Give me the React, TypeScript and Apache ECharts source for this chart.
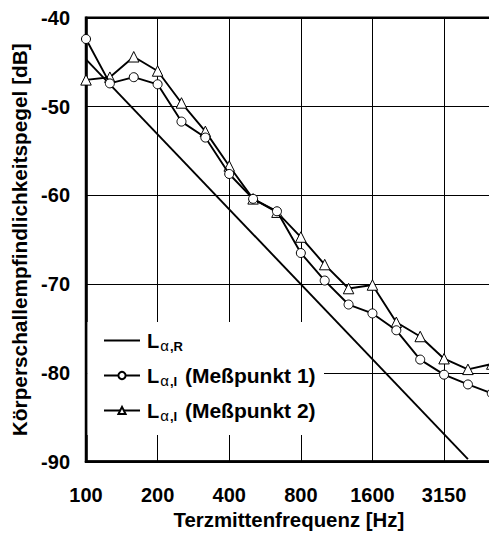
import React, { useEffect, useRef } from "react";
import * as echarts from "echarts";

// Third-octave band centre frequencies [Hz]
const bands = ["100", "125", "160", "200", "250", "315", "400", "500", "630", "800", "1000", "1250", "1600", "2000", "2500", "3150", "4000", "5000"];
// L_alpha,R (reference straight line): end points
const refBands = ["100", "4000"];
const refValues = [-44.7, -89.7];
// L_alpha,I (Meßpunkt 1) – circles
const meas1 = [-42.4, -47.4, -46.7, -47.5, -51.7, -53.5, -57.6, -60.4, -61.8, -66.5, -69.6, -72.3, -73.3, -75.2, -78.5, -80.2, -81.3, -82.3];
// L_alpha,I (Meßpunkt 2) – triangles
const meas2 = [-47.0, -46.7, -44.4, -46.0, -49.6, -52.8, -56.7, -60.4, -61.9, -64.7, -67.8, -70.5, -70.1, -74.3, -75.9, -78.4, -79.6, -79.0];
// y-axis range
const yMin = -90;
const yMax = -40;
const yStep = 10;

const names = ["Lα,R", "Lα,I (Meßpunkt 1)", "Lα,I (Meßpunkt 2)"];

const FONT = "'Liberation Sans', Arial, Helvetica, sans-serif";

export default function App() {
  const ref = useRef<HTMLDivElement>(null);
  useEffect(() => {
    if (!ref.current) return;
    const chart = echarts.init(ref.current, undefined, { renderer: "svg" });
    const symStyle = { color: "#fff", borderColor: "#000", borderWidth: 1 };
    chart.setOption({
      animation: false,
      backgroundColor: "#fff",
      grid: {
        left: 86,
        right: 8.2,
        top: 17.7,
        bottom: 74.3,
        show: true,
        borderColor: "#000",
        borderWidth: 2.5,
        backgroundColor: "transparent",
      },
      xAxis: {
        type: "category",
        data: bands,
        boundaryGap: false,
        name: "Terzmittenfrequenz [Hz]",
        nameLocation: "middle",
        nameGap: 45,
        nameTextStyle: { fontFamily: FONT, fontWeight: "bold", fontSize: 20.4, color: "#000" },
        axisLine: { lineStyle: { color: "#000", width: 2.5 } },
        axisTick: { show: false },
        axisLabel: {
          interval: 2,
          margin: 23,
          fontFamily: FONT,
          fontWeight: "bold",
          fontSize: 20,
          color: "#000",
        },
        splitLine: { show: true, interval: 2, lineStyle: { color: "#000", width: 1 } },
      },
      yAxis: {
        type: "value",
        min: yMin,
        max: yMax,
        interval: yStep,
        name: "Körperschallempfindlichkeitspegel [dB]",
        nameLocation: "middle",
        nameGap: 54,
        nameTextStyle: { fontFamily: FONT, fontWeight: "bold", fontSize: 20.8, color: "#000" },
        axisLine: { show: true, lineStyle: { color: "#000", width: 2.5 } },
        axisTick: { show: false },
        axisLabel: {
          margin: 16,
          fontFamily: FONT,
          fontWeight: "bold",
          fontSize: 20,
          color: "#000",
        },
        splitLine: { show: true, lineStyle: { color: "#000", width: 1 } },
      },
      legend: {
        orient: "vertical",
        left: 103,
        top: 330.5,
        padding: 0,
        itemGap: 12.5,
        itemWidth: 36,
        itemHeight: 9,
        data: [
          { name: names[0], itemStyle: { color: "transparent", borderColor: "transparent", borderWidth: 0 } },
          { name: names[1] },
          { name: names[2] },
        ],
        formatter: (name: string) => {
          const sub = name.startsWith("Lα,R") ? ",R" : ",I";
          const rest = name.replace(/^Lα,[RI]/, "");
          return `{b|L}{a|α}{s|${sub}}` + (rest ? `{c|${rest}}` : "");
        },
        textStyle: {
          color: "#000",
          rich: {
            b: { fontFamily: FONT, fontWeight: "bold", fontSize: 20, lineHeight: 24, color: "#000", padding: [0, 0, 0, 2] },
            c: { fontFamily: FONT, fontWeight: "bold", fontSize: 21, lineHeight: 24, color: "#000", padding: [0, 0, 0, 2] },
            a: { fontFamily: FONT, fontWeight: "normal", fontSize: 15, lineHeight: 15, verticalAlign: "bottom", color: "#000", padding: [0, 1, 0, 1] },
            s: { fontFamily: FONT, fontWeight: "bold", fontSize: 13, lineHeight: 15, verticalAlign: "bottom", color: "#000" },
          },
        },
      },
      graphic: [
        {
          type: "rect",
          z: 3,
          shape: { x: 87.5, y: 322, width: 236.5, height: 113 },
          style: { fill: "#fff" },
        },
      ],
      series: [
        {
          name: names[0],
          type: "line",
          data: refBands.map((b, i) => [b, refValues[i]]),
          symbol: "none",
          lineStyle: { color: "#000", width: 1.9 },
          itemStyle: { color: "#000" },
          z: 2,
        },
        {
          name: names[1],
          type: "line",
          data: meas1,
          symbol: "circle",
          symbolSize: 9,
          lineStyle: { color: "#000", width: 1.9 },
          itemStyle: symStyle,
          z: 3,
        },
        {
          name: names[2],
          type: "line",
          data: meas2,
          symbol: "triangle",
          symbolSize: 10.5,
          lineStyle: { color: "#000", width: 1.9 },
          itemStyle: symStyle,
          z: 2,
        },
      ],
    });
    return () => chart.dispose();
  }, []);
  return (
    <div
      ref={ref}
      style={{ position: "fixed", left: 0, top: 0, width: 500, height: 536, background: "#fff" }}
    />
  );
}
